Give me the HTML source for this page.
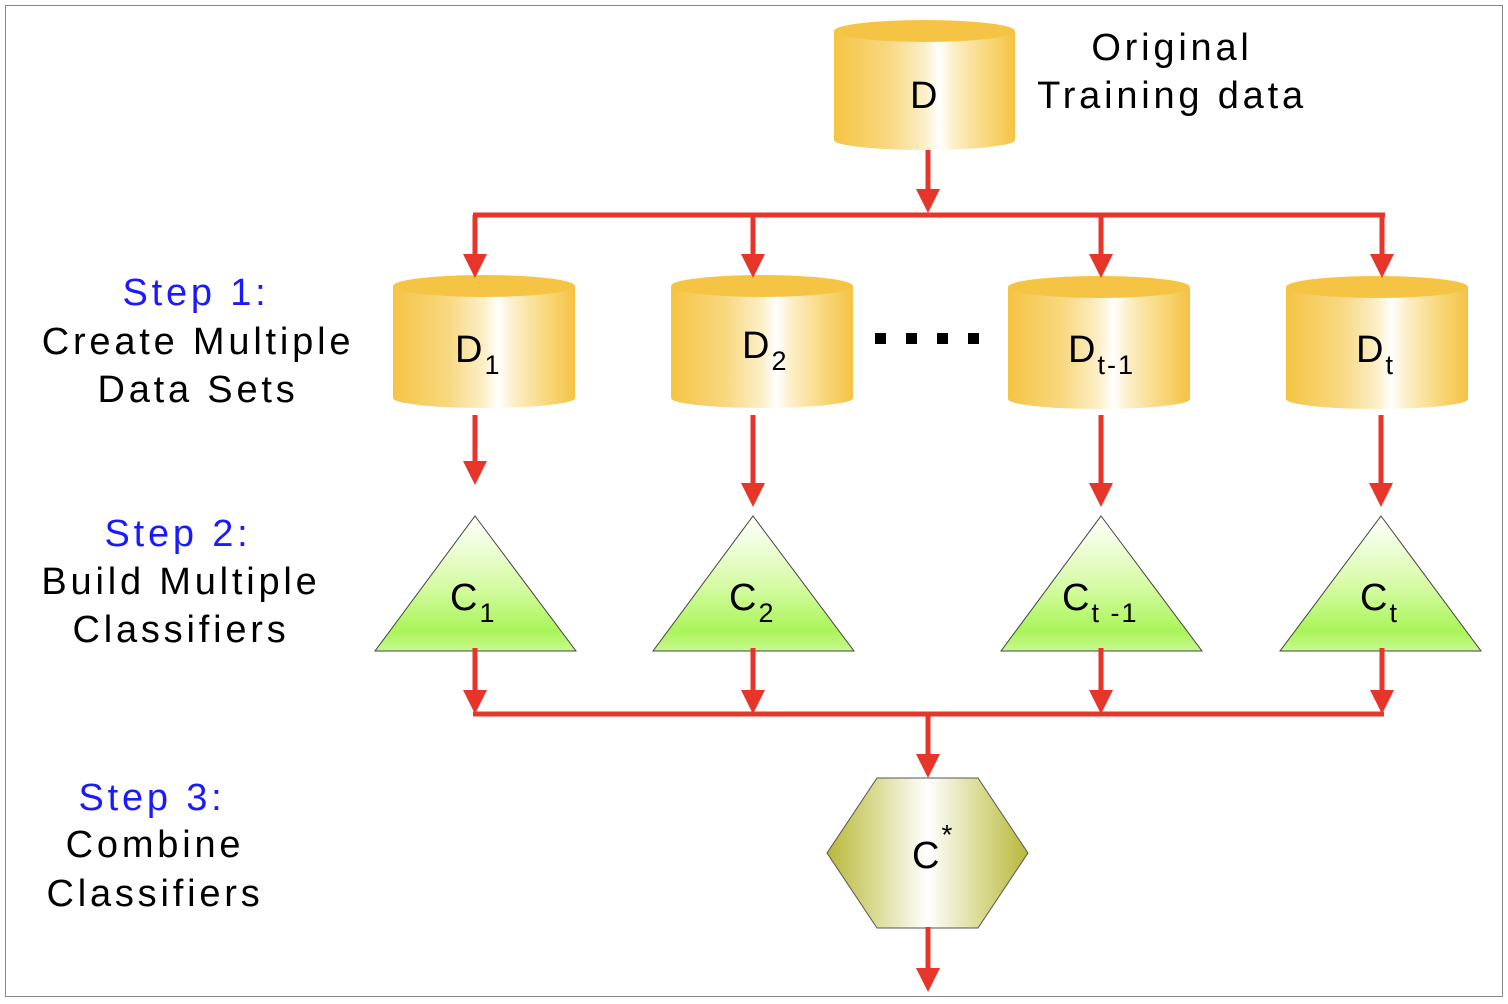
<!DOCTYPE html>
<html><head><style>body{margin:0;background:#fff}svg{display:block}</style></head><body>
<svg width="1508" height="1004" viewBox="0 0 1508 1004" xmlns="http://www.w3.org/2000/svg" font-family="Liberation Sans, sans-serif">
<defs>
<linearGradient id="cyl" x1="0" x2="1" y1="0" y2="0">
<stop offset="0" stop-color="#f5c444"/><stop offset="0.3" stop-color="#f8d880"/><stop offset="0.5" stop-color="#fcefc8"/><stop offset="0.58" stop-color="#ffffff"/><stop offset="0.66" stop-color="#fcefc8"/><stop offset="0.85" stop-color="#f8d778"/><stop offset="1" stop-color="#f5c244"/>
</linearGradient>
<linearGradient id="tri" x1="0" x2="0" y1="0" y2="1">
<stop offset="0" stop-color="#ffffff"/><stop offset="0.5" stop-color="#d8fba8"/><stop offset="0.85" stop-color="#aaf55a"/><stop offset="1" stop-color="#c8f890"/>
</linearGradient>
<linearGradient id="hex" x1="0" x2="1" y1="0" y2="0">
<stop offset="0" stop-color="#b8b83a"/><stop offset="0.25" stop-color="#dcdc98"/><stop offset="0.5" stop-color="#ffffff"/><stop offset="0.75" stop-color="#dcdc98"/><stop offset="1" stop-color="#b8b83a"/>
</linearGradient>
<g id="ah"><path d="M-12,-24 L12,-24 L0,0 Z" fill="#e8352a"/></g>
</defs>
<rect x="5.5" y="5.5" width="1497" height="991" fill="none" stroke="#888" stroke-width="1"/>

<g>
<path d="M834,31 L834,140 A90.5,10 0 0 0 1015,140 L1015,31 Z" fill="url(#cyl)"/>
<ellipse cx="924.5" cy="31" rx="90.5" ry="11" fill="#f6c444"/>
</g>
<g id="c1">
<path d="M393,286 L393,398 A91,10 0 0 0 575,398 L575,286 Z" fill="url(#cyl)"/>
<ellipse cx="484" cy="286" rx="91" ry="11" fill="#f6c444"/>
</g>
<use href="#c1" x="278"/>
<use href="#c1" x="615" y="1"/>
<use href="#c1" x="893" y="1"/>

<g stroke="#444" stroke-width="1" fill="url(#tri)">
<path d="M475,516 L576,651 L375,651 Z"/>
<path d="M753,516 L854,651 L653,651 Z"/>
<path d="M1101,516 L1202,651 L1001,651 Z"/>
<path d="M1381,516 L1481,651 L1280,651 Z"/>
</g>
<path d="M877,778 L978,778 L1028,853 L978,928 L877,928 L827,853 Z" fill="url(#hex)" stroke="#555" stroke-width="1"/>

<g stroke="#e8352a" stroke-width="5" fill="none">
<line x1="928" y1="150" x2="928" y2="195"/>
<line x1="473" y1="215" x2="1385" y2="215"/>
<line x1="475" y1="215" x2="475" y2="256"/>
<line x1="753" y1="215" x2="753" y2="256"/>
<line x1="1101" y1="215" x2="1101" y2="256"/>
<line x1="1382" y1="215" x2="1382" y2="256"/>
<line x1="475" y1="415" x2="475" y2="462"/>
<line x1="753" y1="415" x2="753" y2="484"/>
<line x1="1101" y1="415" x2="1101" y2="484"/>
<line x1="1381" y1="415" x2="1381" y2="484"/>
<line x1="475" y1="648" x2="475" y2="692"/>
<line x1="753" y1="648" x2="753" y2="692"/>
<line x1="1101" y1="648" x2="1101" y2="692"/>
<line x1="1382" y1="648" x2="1382" y2="692"/>
<line x1="473" y1="714" x2="1384" y2="714"/>
<line x1="928" y1="714" x2="928" y2="756"/>
<line x1="928" y1="927" x2="928" y2="970"/>
</g>
<use href="#ah" x="928" y="213"/>
<use href="#ah" x="475" y="278"/>
<use href="#ah" x="753" y="278"/>
<use href="#ah" x="1101" y="278"/>
<use href="#ah" x="1382" y="278"/>
<use href="#ah" x="475" y="485"/>
<use href="#ah" x="753" y="507"/>
<use href="#ah" x="1101" y="507"/>
<use href="#ah" x="1381" y="507"/>
<use href="#ah" x="475" y="714"/>
<use href="#ah" x="753" y="714"/>
<use href="#ah" x="1101" y="714"/>
<use href="#ah" x="1382" y="714"/>
<use href="#ah" x="928" y="778"/>
<use href="#ah" x="928" y="992"/>

<g fill="#000">
<rect x="875" y="333" width="11" height="11"/><rect x="906" y="333" width="11" height="11"/><rect x="937" y="333" width="11" height="11"/><rect x="968" y="333" width="11" height="11"/>
</g>

<g font-size="38" fill="#000" letter-spacing="2">
<text x="910" y="108">D</text>
<text x="455" y="362">D<tspan font-size="27" dy="12">1</tspan></text>
<text x="742" y="358">D<tspan font-size="27" dy="12">2</tspan></text>
<text x="1068" y="362">D<tspan font-size="27" dy="12">t-1</tspan></text>
<text x="1356" y="362">D<tspan font-size="27" dy="12">t</tspan></text>
<text x="450" y="610">C<tspan font-size="27" dy="12">1</tspan></text>
<text x="729" y="610">C<tspan font-size="27" dy="12">2</tspan></text>
<text x="1062" y="610">C<tspan font-size="27" dy="12">t -1</tspan></text>
<text x="1360" y="610">C<tspan font-size="27" dy="12">t</tspan></text>
<text x="912" y="868">C<tspan font-size="28" dy="-24">*</tspan></text>
</g>
<g font-size="38" fill="#000" text-anchor="middle" letter-spacing="3.8">
<text x="1172" y="60">Original</text>
<text x="1172" y="108">Training data</text>
<text x="196" y="305" fill="#1a1aff">Step 1:</text>
<text x="198" y="354">Create Multiple</text>
<text x="198" y="402">Data Sets</text>
<text x="178" y="546" fill="#1a1aff">Step 2:</text>
<text x="181" y="594">Build Multiple</text>
<text x="181" y="642">Classifiers</text>
<text x="152" y="810" fill="#1a1aff">Step 3:</text>
<text x="155" y="857">Combine</text>
<text x="155" y="906">Classifiers</text>
</g>
</svg>
</body></html>
